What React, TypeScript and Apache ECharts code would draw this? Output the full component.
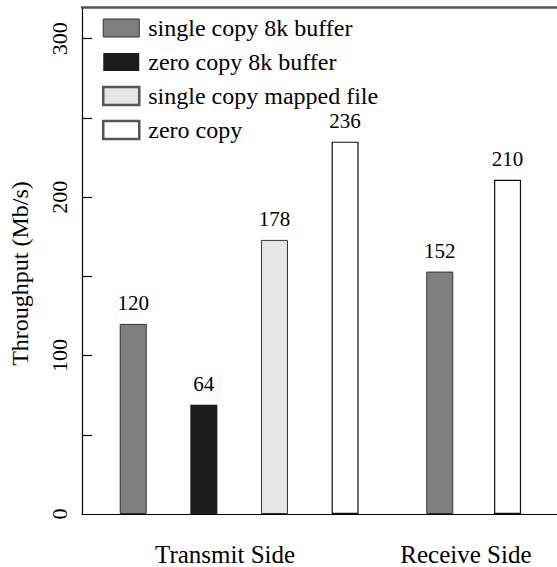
import React, { useEffect, useRef } from "react";
import * as echarts from "echarts";

// Series (legend entries)
const seriesNames = [
  "single copy 8k buffer",
  "zero copy 8k buffer",
  "single copy mapped file",
  "zero copy",
];

// Bar slots on the horizontal axis (per series), measured bar heights and printed labels
const slotsSingle8k = [1, 5.34];
const heightsSingle8k = [120, 153];
const labelsSingle8k = ["120", "152"];

const slotsZero8k = [2];
const heightsZero8k = [69];
const labelsZero8k = ["64"];

const slotsMapped = [3];
const heightsMapped = [173];
const labelsMapped = ["178"];

const slotsZero = [4, 6.3];
const heightsZero = [235, 211];
const labelsZero = ["236", "210"];

// Group captions and where they sit on the horizontal axis
const groupNames = ["Transmit Side", "Receive Side"];
const groupPositions = [2.3, 5.71];

// Y axis ticks / labels
const yTicks = [50, 100, 150, 200, 250, 300];
const yLabels = [0, 100, 200, 300];

const FONT = "Liberation Serif";

const styles = [
  { color: "#7f7f7f", borderColor: "#333333", borderWidth: 1 },
  { color: "#1c1c1c", borderColor: "#1c1c1c", borderWidth: 0 },
  { color: "#e6e6e6", borderColor: "#333333", borderWidth: 1 },
  { color: "#ffffff", borderColor: "#111111", borderWidth: 1.2 },
];
const legendStyles = [
  { color: "#7f7f7f", borderColor: "#333333", borderWidth: 1 },
  { color: "#1c1c1c", borderColor: "#1c1c1c", borderWidth: 0 },
  { color: "#e6e6e6", borderColor: "#555555", borderWidth: 2.5 },
  { color: "#ffffff", borderColor: "#555555", borderWidth: 2.5 },
];

function makeData(slots: number[], heights: number[], labels: string[]) {
  return slots.map((s, i) => ({ value: [s, heights[i]], name: labels[i] }));
}

export default function App() {
  const ref = useRef<HTMLDivElement>(null);
  useEffect(() => {
    if (!ref.current) return;
    const chart = echarts.init(ref.current, null, { renderer: "svg" });
    const dataSets = [
      makeData(slotsSingle8k, heightsSingle8k, labelsSingle8k),
      makeData(slotsZero8k, heightsZero8k, labelsZero8k),
      makeData(slotsMapped, heightsMapped, labelsMapped),
      makeData(slotsZero, heightsZero, labelsZero),
    ];
    chart.setOption({
      animation: false,
      backgroundColor: "#ffffff",
      textStyle: { fontFamily: FONT, color: "#000" },
      grid: { left: 80, right: 0, top: 7, bottom: 50, containLabel: false },
      legend: {
        orient: "vertical",
        left: 97,
        top: 11,
        itemWidth: 36,
        itemHeight: 18,
        itemGap: 10,
        textStyle: { fontFamily: FONT, fontSize: 24, color: "#000", padding: [0, 0, 0, 4] },
        data: seriesNames.map((n, i) => ({
          name: n,
          icon: "rect",
          itemStyle: legendStyles[i],
        })),
      },
      xAxis: [
        {
          type: "value",
          min: 0.275,
          max: 7,
          splitLine: { show: false },
          axisLine: { show: true, lineStyle: { color: "#000", width: 1.2 } },
          axisTick: { show: false },
          axisLabel: {
            customValues: groupPositions,
            formatter: (v: number) => {
              const i = groupPositions.findIndex((p) => Math.abs(p - v) < 1e-6);
              return i >= 0 ? groupNames[i] : "";
            },
            fontFamily: FONT,
            fontSize: 25,
            color: "#000",
            margin: 28,
          },
        },
        {
          type: "value",
          position: "top",
          min: 0.275,
          max: 7,
          splitLine: { show: false },
          axisLine: { show: true, onZero: false, lineStyle: { color: "#555", width: 2.5 } },
          axisTick: { show: false },
          axisLabel: { show: false },
        },
      ],
      yAxis: {
        type: "value",
        min: 0,
        max: 320,
        splitLine: { show: false },
        name: "Throughput (Mb/s)",
        nameLocation: "middle",
        nameGap: 50,
        nameRotate: 90,
        nameTextStyle: { fontFamily: FONT, fontSize: 24, color: "#000", padding: [0, 26, 0, 0] },
        axisLine: { show: true, lineStyle: { color: "#000", width: 1.2 } },
        axisTick: {
          show: true,
          inside: true,
          length: 10,
          customValues: yTicks,
          lineStyle: { color: "#000", width: 1.2 },
        },
        axisLabel: {
          customValues: yLabels,
          rotate: 90,
          fontFamily: FONT,
          fontSize: 22,
          color: "#000",
          margin: 12,
        },
      },
      series: seriesNames.map((n, i) => ({
        type: "bar",
        name: n,
        xAxisIndex: 0,
        barWidth: 27,
        barGap: "-100%",
        itemStyle: styles[i],
        label: {
          show: true,
          position: "top",
          distance: 10,
          formatter: "{b}",
          fontFamily: FONT,
          fontSize: 21,
          color: "#000",
        },
        data: dataSets[i],
      })),
    });
    return () => chart.dispose();
  }, []);
  return (
    <div
      ref={ref}
      style={{ position: "fixed", left: 0, top: 0, width: 557, height: 567 }}
    />
  );
}
